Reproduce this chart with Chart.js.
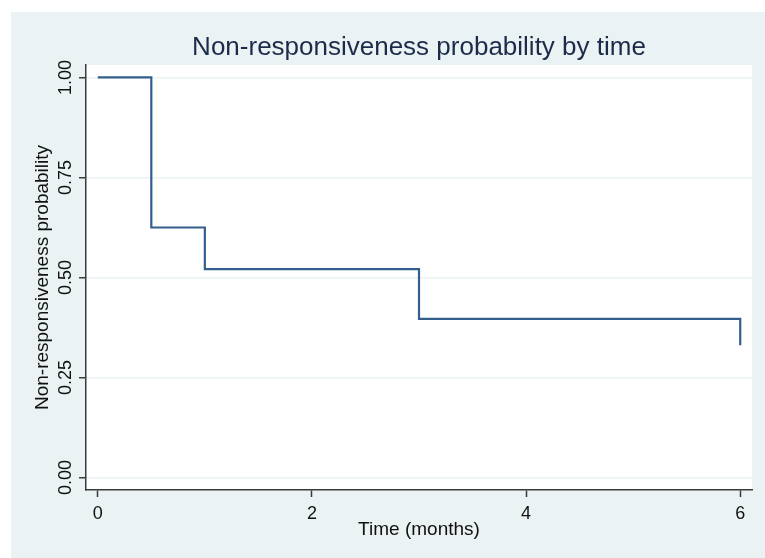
<!DOCTYPE html>
<html>
<head>
<meta charset="utf-8">
<script src="https://cdn.jsdelivr.net/npm/chart.js@4/dist/chart.umd.min.js"></script>
<style>
  html, body { margin: 0; padding: 0; background: #ffffff; }
  #wrap { width: 765px; height: 558px; }
</style>
</head>
<body>
<div id="wrap"><canvas id="c" width="765" height="558"></canvas></div>
<script>
// ---- data ----
const times = [0, 0.5, 1, 3, 6];
const survival = [1.0, 0.625, 0.5208, 0.3968, 0.3307];
const xTicks = [0, 2, 4, 6];
const xTickLabels = ['0', '2', '4', '6'];
const yTicks = [0, 0.25, 0.5, 0.75, 1];
const yTickLabels = ['0.00', '0.25', '0.50', '0.75', '1.00'];
const titleText = 'Non-responsiveness probability by time';
const xTitle = 'Time (months)';
const yTitle = 'Non-responsiveness probability';

const FONT = '"Liberation Sans", Arial, sans-serif';
const BG = '#eaf2f3';
const AXIS = '#3a3a3a';

Chart.defaults.font.family = FONT;

const bgPlugin = {
  id: 'bgPlugin',
  beforeDraw(chart) {
    const { ctx, chartArea: a } = chart;
    ctx.save();
    ctx.fillStyle = '#ffffff';
    ctx.fillRect(0, 0, chart.width, chart.height);
    ctx.fillStyle = BG;
    ctx.fillRect(11, 12, chart.width - 11, chart.height - 12);
    ctx.fillStyle = '#ffffff';
    ctx.fillRect(a.left, a.top, a.right - a.left, a.bottom - a.top);
    ctx.restore();
  }
};

const yLabelPlugin = {
  id: 'yLabelPlugin',
  afterDraw(chart) {
    const s = chart.scales.y;
    const ctx = chart.ctx;
    ctx.save();
    ctx.font = '18px ' + FONT;
    ctx.fillStyle = '#111111';
    ctx.textAlign = 'center';
    ctx.textBaseline = 'alphabetic';
    yTicks.forEach((v, i) => {
      const py = s.getPixelForValue(v);
      ctx.save();
      ctx.translate(s.right - 7 - 8, py);
      ctx.rotate(-Math.PI / 2);
      ctx.fillText(yTickLabels[i], 0, 0);
      ctx.restore();
    });
    ctx.restore();
  }
};

new Chart(document.getElementById('c'), {
  type: 'line',
  data: {
    datasets: [{
      data: times.map((t, i) => ({ x: t, y: survival[i] })),
      stepped: 'before',
      borderColor: '#335f8c',
      borderWidth: 2.2,
      pointRadius: 0,
      fill: false
    }]
  },
  options: {
    responsive: false,
    animation: false,
    layout: { padding: { left: 0, right: 13, top: 0, bottom: 0 } },
    plugins: {
      legend: { display: false },
      tooltip: { enabled: false },
      title: {
        display: true,
        text: titleText,
        fullSize: false,
        color: '#1c2b4a',
        font: { size: 26, weight: 'normal', family: FONT },
        padding: { top: 32, bottom: 1.8 }
      }
    },
    scales: {
      x: {
        type: 'linear',
        min: -0.11,
        max: 6.11,
        afterBuildTicks(scale) { scale.ticks = xTicks.map(v => ({ value: v })); },
        afterFit(scale) { scale.height = 68; },
        ticks: {
          color: '#111111',
          font: { size: 18, family: FONT },
          padding: 6,
          maxRotation: 0,
          callback(value) { const i = xTicks.indexOf(value); return i >= 0 ? xTickLabels[i] : ''; }
        },
        grid: {
          drawOnChartArea: false,
          drawTicks: true,
          tickLength: 7,
          tickColor: AXIS,
          tickWidth: 1.5
        },
        border: { display: true, color: AXIS, width: 1.5 },
        title: {
          display: true,
          text: xTitle,
          color: '#111111',
          font: { size: 19, family: FONT },
          padding: { top: 0, bottom: 17 }
        }
      },
      y: {
        type: 'linear',
        min: -0.031,
        max: 1.031,
        afterBuildTicks(scale) { scale.ticks = yTicks.map(v => ({ value: v })); },
        afterFit(scale) { scale.width = 86; },
        ticks: { display: false },
        grid: {
          drawOnChartArea: true,
          drawTicks: true,
          tickLength: 7,
          color: BG,
          lineWidth: 1.5,
          tickColor: AXIS,
          tickWidth: 1.5
        },
        border: { display: true, color: AXIS, width: 1.5 },
        title: {
          display: true,
          text: yTitle,
          color: '#111111',
          font: { size: 19, family: FONT },
          padding: { top: 31, bottom: 0 }
        }
      }
    }
  },
  plugins: [bgPlugin, yLabelPlugin]
});
</script>
</body>
</html>
